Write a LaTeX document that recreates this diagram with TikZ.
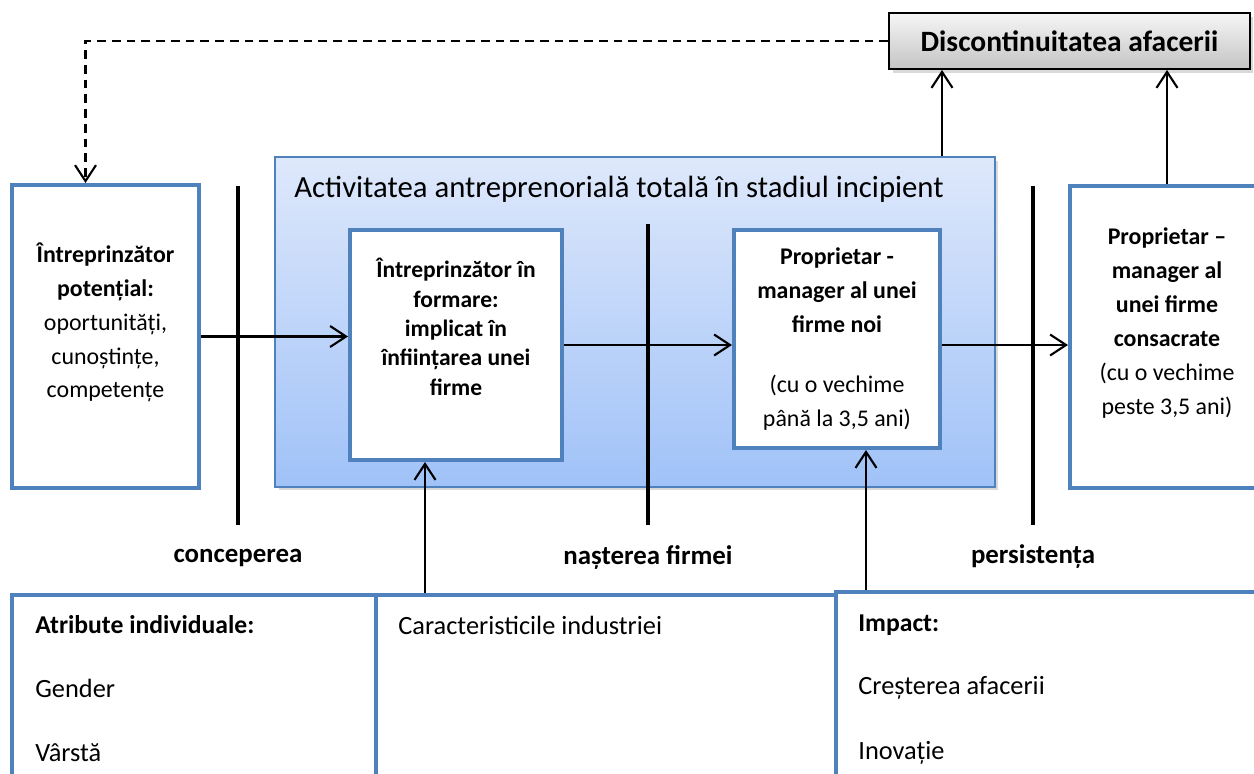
\documentclass[tikz,border=0pt]{standalone}
\usepackage{fontspec}
\setmainfont{Carlito}
\usetikzlibrary{arrows.meta, shadows}
\definecolor{boxblue}{RGB}{79,129,189}
\definecolor{gradtop}{RGB}{222,232,251}
\definecolor{gradbot}{RGB}{160,194,248}
\definecolor{greytop}{RGB}{246,246,246}
\definecolor{greybot}{RGB}{196,196,196}
\tikzstyle{stage} = [rectangle, draw=boxblue, line width=2.3pt, fill=white]
\tikzstyle{phase} = [rectangle, draw=boxblue, line width=1pt, top color=gradtop, bottom color=gradbot, drop shadow={shadow xshift=2pt, shadow yshift=-2pt, opacity=0.3}]
\tikzstyle{endbox} = [rectangle, draw=black, line width=1.1pt, top color=greytop, bottom color=greybot, drop shadow={shadow xshift=2pt, shadow yshift=-2pt, opacity=0.3}, font=\fontsize{16.8}{19}\selectfont\bfseries]
\tikzstyle{boxtext} = [align=center, inner sep=0pt, font=\fontsize{13.6}{19.3}\selectfont]
\tikzstyle{titletext} = [inner sep=0pt, font=\fontsize{17.5}{20}\selectfont]
\tikzstyle{phasename} = [inner sep=0pt, font=\fontsize{15.3}{18}\selectfont\bfseries]
\tikzstyle{listtext} = [anchor=west, inner sep=0pt, font=\fontsize{15}{18}\selectfont]
\tikzstyle{stagebar} = [line width=2.8pt]
\tikzstyle{arrow} = [line width=1.2pt, -{Straight Barb[length=0.32cm, width=0.42cm]}]
\tikzstyle{dasharrow} = [arrow, dash pattern=on 5pt off 3.4pt]

\begin{document}
\begin{tikzpicture}[x=0.02cm, y=-0.02cm]
	\useasboundingbox (0,0) rectangle (1254,774);

	\node (tea) [phase, minimum width=14.4cm, minimum height=6.6cm] at (635,322) {};
	\node (tea-t) [titletext, anchor=west] at (294,189) {Activitatea antreprenorială totală în stadiul incipient};
	\node (disc) [endbox, minimum width=7.22cm, minimum height=1.12cm] at (1069.5,41) {Discontinuitatea afacerii};

	\node (pot) [stage, minimum width=3.74cm, minimum height=6.06cm] at (105.5,336.5) {};
	\node (pot-t) [boxtext] at ([yshift=0.28cm]pot.center) {\textbf{Întreprinzător}\\\textbf{potențial:}\\oportunități,\\cunoștințe,\\competențe};
	\node (form) [stage, minimum width=4.24cm, minimum height=4.6cm] at (456,345) {};
	\node (form-t) [boxtext, font=\fontsize{13.4}{16.7}\selectfont\bfseries] at ([yshift=0.36cm]form.center) {Întreprinzător în\\formare:\\implicat în\\înființarea unei\\firme};
	\node (nou) [stage, minimum width=4.12cm, minimum height=4.36cm] at (837,339) {};
	\node (nou-t) [boxtext] at (nou.center) {\textbf{Proprietar -}\\\textbf{manager al unei}\\\textbf{firme noi}\\[14.7pt](cu o vechime\\până la 3,5 ani)};
	\node (cons) [stage, minimum width=3.88cm, minimum height=6.04cm] at (1167,337) {};
	\node (cons-t) [boxtext] at ([yshift=0.28cm]cons.center) {\textbf{Proprietar –}\\\textbf{manager al}\\\textbf{unei firme}\\\textbf{consacrate}\\(cu o vechime\\peste 3,5 ani)};

	% the three thresholds
	\draw [stagebar] (238,186) -- (238,525);
	\draw [stagebar] (648,224) -- (648,525);
	\draw [stagebar] (1033,186) -- (1033,525);
	\node (p1) [phasename] at (238,558) {conceperea};
	\node (p2) [phasename] at (648,558) {nașterea firmei};
	\node (p3) [phasename] at (1033,557) {persistența};

	\node (attr) [stage, minimum width=7.28cm, minimum height=4.1cm] at (194,697.5) {};
	\node (ind) [stage, minimum width=9.2cm, minimum height=4.1cm] at (606,697.5) {};
	\node (imp) [stage, minimum width=8.56cm, minimum height=4.16cm] at (1050,696) {};
	\node (attr-1) [listtext, font=\fontsize{14.6}{18}\selectfont\bfseries] at (35,625) {Atribute individuale:};
	\node (attr-2) [listtext] at (35,688) {Gender};
	\node (attr-3) [listtext] at (35,753) {Vârstă};
	\node (ind-1) [listtext] at (398,625) {Caracteristicile industriei};
	\node (imp-1) [listtext, font=\fontsize{14.6}{18}\selectfont\bfseries] at (858,625) {Impact:};
	\node (imp-2) [listtext] at (858,688) {Creșterea afacerii};
	\node (imp-3) [listtext] at (858,753) {Inovație};

	\coordinate (up1) at ([xshift=-0.62cm]form.south);
	\coordinate (up2) at ([xshift=0.58cm]nou.south);
	\coordinate (back) at ([xshift=-0.4cm]pot.north);

	\draw [arrow] (pot) -- (pot -| form.west);
	\draw [arrow] (form) -- (form -| nou.west);
	\draw [arrow] (nou.east |- form) -- (form -| cons.west);
	\draw [arrow] (up1 |- ind.north) -- (up1);
	\draw [arrow] (up2 |- imp.north) -- (up2);
	\draw [arrow] (tea.north -| nou.east) -- (nou.east |- disc.south);
	\draw [arrow] (cons.north) -- (cons.north |- disc.south);
	\draw [dasharrow] (disc.west) -| (back);

\end{tikzpicture}
\end{document}
